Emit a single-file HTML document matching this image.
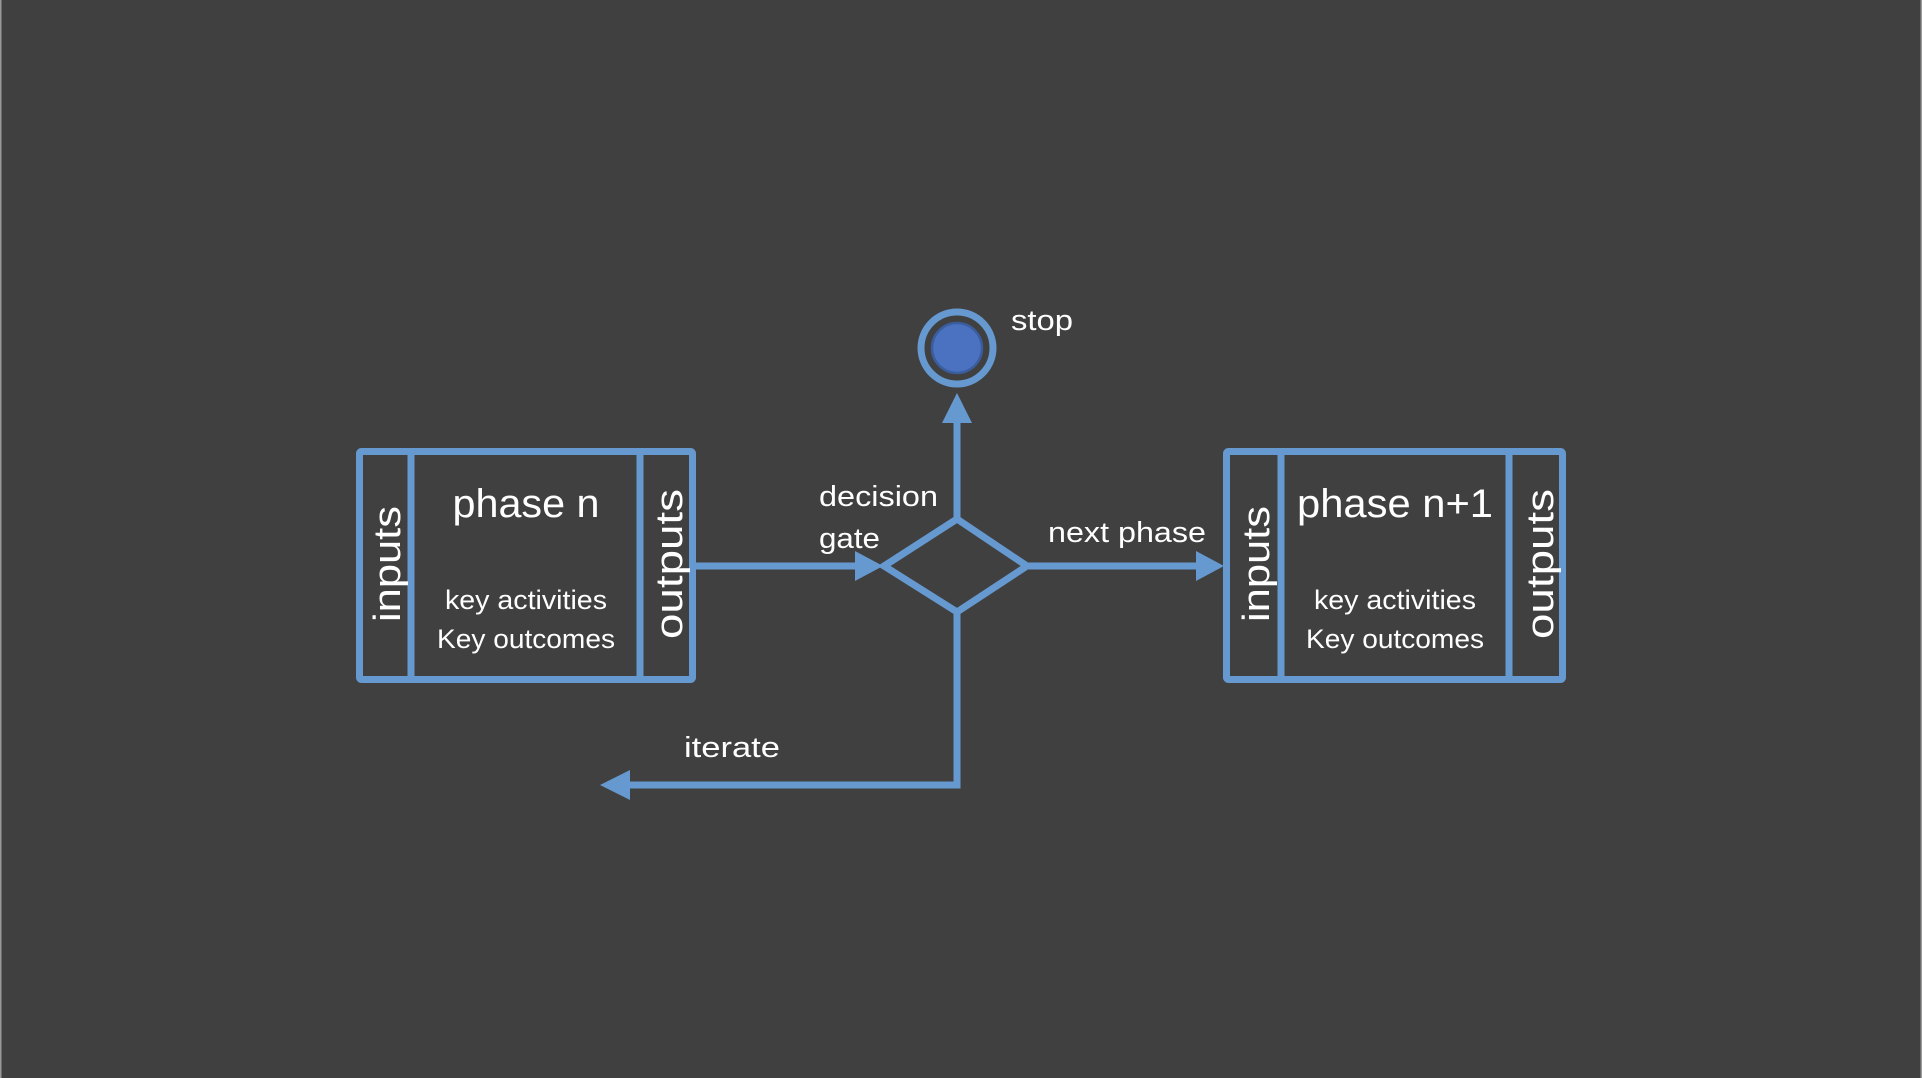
<!DOCTYPE html>
<html><head><meta charset="utf-8"><style>
html,body{margin:0;padding:0;background:#404040;}
svg{display:block;}
text{font-family:"Liberation Sans",sans-serif;fill:#ffffff;}
</style></head><body>
<svg width="1922" height="1078" viewBox="0 0 1922 1078" xmlns="http://www.w3.org/2000/svg">
<rect x="0" y="0" width="1922" height="1078" fill="#404040"/>
<rect x="0" y="0" width="1.5" height="1078" fill="#9a9a9a"/>
<rect x="1920.5" y="0" width="1.5" height="1078" fill="#9a9a9a"/>
<g stroke="#6699cf" stroke-width="7" fill="none">
  <!-- left box -->
  <rect x="359.5" y="451.5" width="333" height="228" rx="2"/>
  <line x1="411" y1="452" x2="411" y2="679"/>
  <line x1="640" y1="452" x2="640" y2="679"/>
  <!-- right box -->
  <rect x="1226.5" y="451.5" width="336" height="228" rx="2"/>
  <line x1="1281" y1="452" x2="1281" y2="679"/>
  <line x1="1509" y1="452" x2="1509" y2="679"/>
  <!-- diamond -->
  <polygon points="957,519 1027,566 957,612 884,566"/>
  <!-- connectors -->
  <line x1="693" y1="566" x2="860" y2="566"/>
  <line x1="1027" y1="566" x2="1200" y2="566"/>
  <line x1="957" y1="519" x2="957" y2="420"/>
  <polyline points="957,612 957,785 628,785"/>
  <!-- stop ring -->
  <circle cx="957" cy="348" r="36"/>
</g>
<g fill="#6699cf">
  <polygon points="883,566 855,551 855,581"/>
  <polygon points="1224,566 1196,551 1196,581"/>
  <polygon points="957,393 942,423 972,423"/>
  <polygon points="600,785 630,770 630,800"/>
</g>
<circle cx="957" cy="348" r="25" fill="#4a72c0" stroke="#3a5d9e" stroke-width="2.5"/>
<!-- texts -->
<text x="526" y="517" font-size="40" text-anchor="middle" textLength="147" lengthAdjust="spacingAndGlyphs">phase n</text>
<text x="526" y="609" font-size="27" text-anchor="middle" textLength="162" lengthAdjust="spacingAndGlyphs">key activities</text>
<text x="526" y="648" font-size="27" text-anchor="middle" textLength="178" lengthAdjust="spacingAndGlyphs">Key outcomes</text>
<text transform="translate(400,564) rotate(-90)" font-size="38" text-anchor="middle" textLength="116" lengthAdjust="spacingAndGlyphs">inputs</text>
<text transform="translate(682,564) rotate(-90)" font-size="38" text-anchor="middle" textLength="150" lengthAdjust="spacingAndGlyphs">outputs</text>

<text x="1395" y="517" font-size="40" text-anchor="middle" textLength="196" lengthAdjust="spacingAndGlyphs">phase n+1</text>
<text x="1395" y="609" font-size="27" text-anchor="middle" textLength="162" lengthAdjust="spacingAndGlyphs">key activities</text>
<text x="1395" y="648" font-size="27" text-anchor="middle" textLength="178" lengthAdjust="spacingAndGlyphs">Key outcomes</text>
<text transform="translate(1269,564) rotate(-90)" font-size="38" text-anchor="middle" textLength="116" lengthAdjust="spacingAndGlyphs">inputs</text>
<text transform="translate(1553,564) rotate(-90)" font-size="38" text-anchor="middle" textLength="150" lengthAdjust="spacingAndGlyphs">outputs</text>

<text x="819" y="506" font-size="29" textLength="119" lengthAdjust="spacingAndGlyphs">decision</text>
<text x="819" y="548" font-size="29" textLength="61" lengthAdjust="spacingAndGlyphs">gate</text>
<text x="1048" y="542" font-size="29" textLength="158" lengthAdjust="spacingAndGlyphs">next phase</text>
<text x="1011" y="330" font-size="29" textLength="62" lengthAdjust="spacingAndGlyphs">stop</text>
<text x="684" y="757" font-size="29" textLength="96" lengthAdjust="spacingAndGlyphs">iterate</text>
</svg>
</body></html>
